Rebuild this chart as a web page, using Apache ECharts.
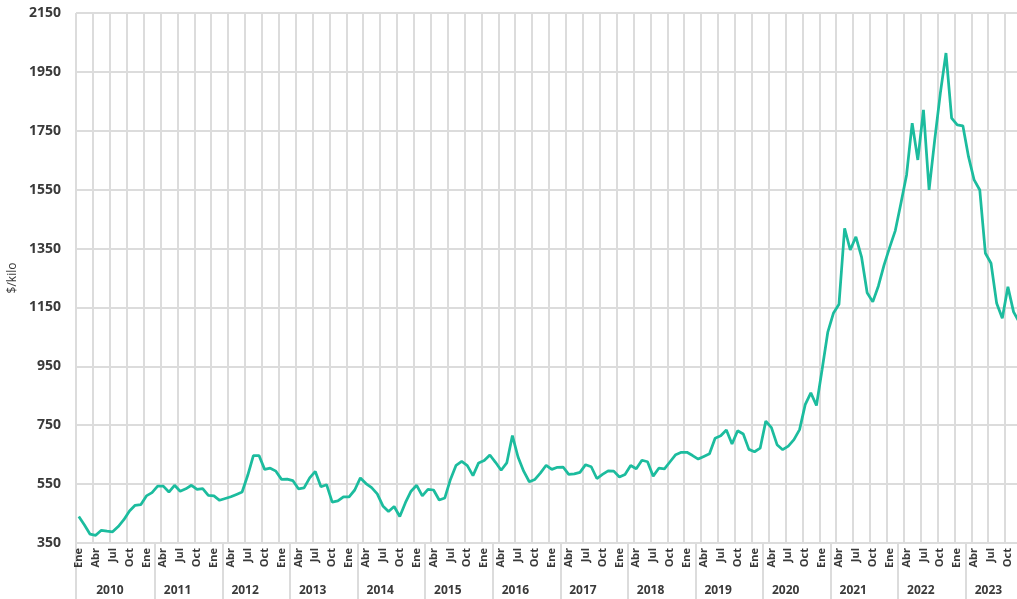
<!DOCTYPE html>
<html>
<head>
<meta charset="utf-8">
<title>Precio $/kilo</title>
<script src="https://cdn.jsdelivr.net/npm/echarts@6/dist/echarts.min.js"></script>
<style>
  html, body { margin: 0; padding: 0; background: #fff; }
  #chart { width: 1017px; height: 599px; }
</style>
</head>
<body>
<div id="chart"></div>
<script>
const years = [2010, 2011, 2012, 2013, 2014, 2015, 2016, 2017, 2018, 2019, 2020, 2021, 2022, 2023]
const months = ['Ene', 'Feb', 'Mar', 'Abr', 'May', 'Jun', 'Jul', 'Ago', 'Sep', 'Oct', 'Nov', 'Dic']
const yTicks = [350, 550, 750, 950, 1150, 1350, 1550, 1750, 1950, 2150]

// precio mensual, $/kilo
const price2010 = [440, 411, 380, 376, 393, 390, 388, 406, 429, 459, 478, 480]
const price2011 = [510, 521, 543, 543, 523, 546, 526, 534, 546, 532, 535, 512]
const price2012 = [510, 495, 501, 507, 515, 523, 580, 647, 647, 600, 604, 594]
const price2013 = [566, 567, 562, 534, 537, 571, 593, 541, 548, 489, 493, 507]
const price2014 = [507, 530, 571, 552, 538, 517, 476, 457, 474, 440, 487, 526]
const price2015 = [546, 510, 532, 530, 496, 503, 566, 614, 627, 613, 579, 622]
const price2016 = [630, 649, 624, 597, 622, 715, 642, 594, 558, 566, 588, 614]
const price2017 = [600, 607, 608, 583, 585, 590, 616, 609, 569, 583, 595, 594]
const price2018 = [574, 583, 613, 602, 631, 626, 577, 604, 602, 626, 650, 658]
const price2019 = [658, 647, 635, 644, 653, 706, 714, 734, 686, 731, 720, 668]
const price2020 = [660, 672, 764, 742, 684, 667, 679, 701, 735, 820, 860, 817]
const price2021 = [939, 1065, 1130, 1161, 1419, 1345, 1390, 1322, 1200, 1169, 1223, 1294]
const price2022 = [1354, 1411, 1504, 1600, 1776, 1651, 1821, 1549, 1719, 1878, 2014, 1793]
const price2023 = [1770, 1767, 1662, 1583, 1549, 1334, 1300, 1164, 1113, 1220, 1135, 1100]

const priceData = [].concat(
  price2010, price2011, price2012, price2013, price2014, price2015, price2016,
  price2017, price2018, price2019, price2020, price2021, price2022, price2023
)
const categories = years.flatMap(y => months.map(m => m + '-' + y))

const fontFamily = '"Open Sans", "Liberation Sans", sans-serif'
const textColor = '#3a3a3a'
const gridColor = '#dcdcdc'
const lineColor = '#1cbc9e'

const chart = echarts.init(document.getElementById('chart'))
const option = {
  animation: false,
  backgroundColor: '#ffffff',
  grid: {
    left: 76,
    right: -5,
    top: 13,
    bottom: 56,
    containLabel: false,
    outerBoundsMode: 'none'
  },
  xAxis: [
    {
      type: 'category',
      data: categories,
      boundaryGap: true,
      axisLine: { lineStyle: { color: gridColor, width: 2 } },
      axisTick: { show: false },
      splitLine: {
        show: true,
        interval: (index) => index % 3 === 0,
        lineStyle: { color: gridColor, width: 2 }
      },
      axisLabel: {
        interval: (index) => index % 3 === 0,
        formatter: (value) => value.split('-')[0],
        rotate: 90,
        margin: 5,
        color: textColor,
        fontFamily,
        fontWeight: 'bold',
        fontSize: 11
      }
    },
    {
      // años, con separadores largos
      type: 'category',
      data: categories,
      position: 'bottom',
      boundaryGap: true,
      axisLine: { show: false },
      axisTick: {
        show: true,
        length: 57,
        interval: (index) => index === 0 || (index >= 14 && (index - 14) % 12 === 0),
        lineStyle: { color: gridColor, width: 2 }
      },
      splitLine: { show: false },
      axisLabel: {
        interval: (index) => index % 12 === 5,
        formatter: (value) => value.split('-')[1],
        padding: [0, 0, 0, 6],
        margin: 42,
        color: textColor,
        fontFamily,
        fontWeight: 'bold',
        fontSize: 12
      }
    }
  ],
  yAxis: {
    type: 'value',
    min: 350,
    max: 2150,
    name: '$/kilo',
    nameLocation: 'middle',
    nameGap: 51,
    nameTextStyle: {
      color: textColor,
      fontFamily,
      fontSize: 12
    },
    axisLine: { show: false },
    axisTick: { show: false, customValues: yTicks },
    axisLabel: {
      customValues: yTicks,
      formatter: (value) => String(value),
      margin: 15,
      color: textColor,
      fontFamily,
      fontWeight: 'bold',
      fontSize: 14
    },
    splitLine: {
      show: true,
      lineStyle: { color: gridColor, width: 2 }
    }
  },
  series: [
    {
      type: 'line',
      data: priceData,
      showSymbol: false,
      lineStyle: { color: lineColor, width: 2.75 },
      itemStyle: { color: lineColor }
    }
  ]
}
chart.setOption(option)
</script>
</body>
</html>
